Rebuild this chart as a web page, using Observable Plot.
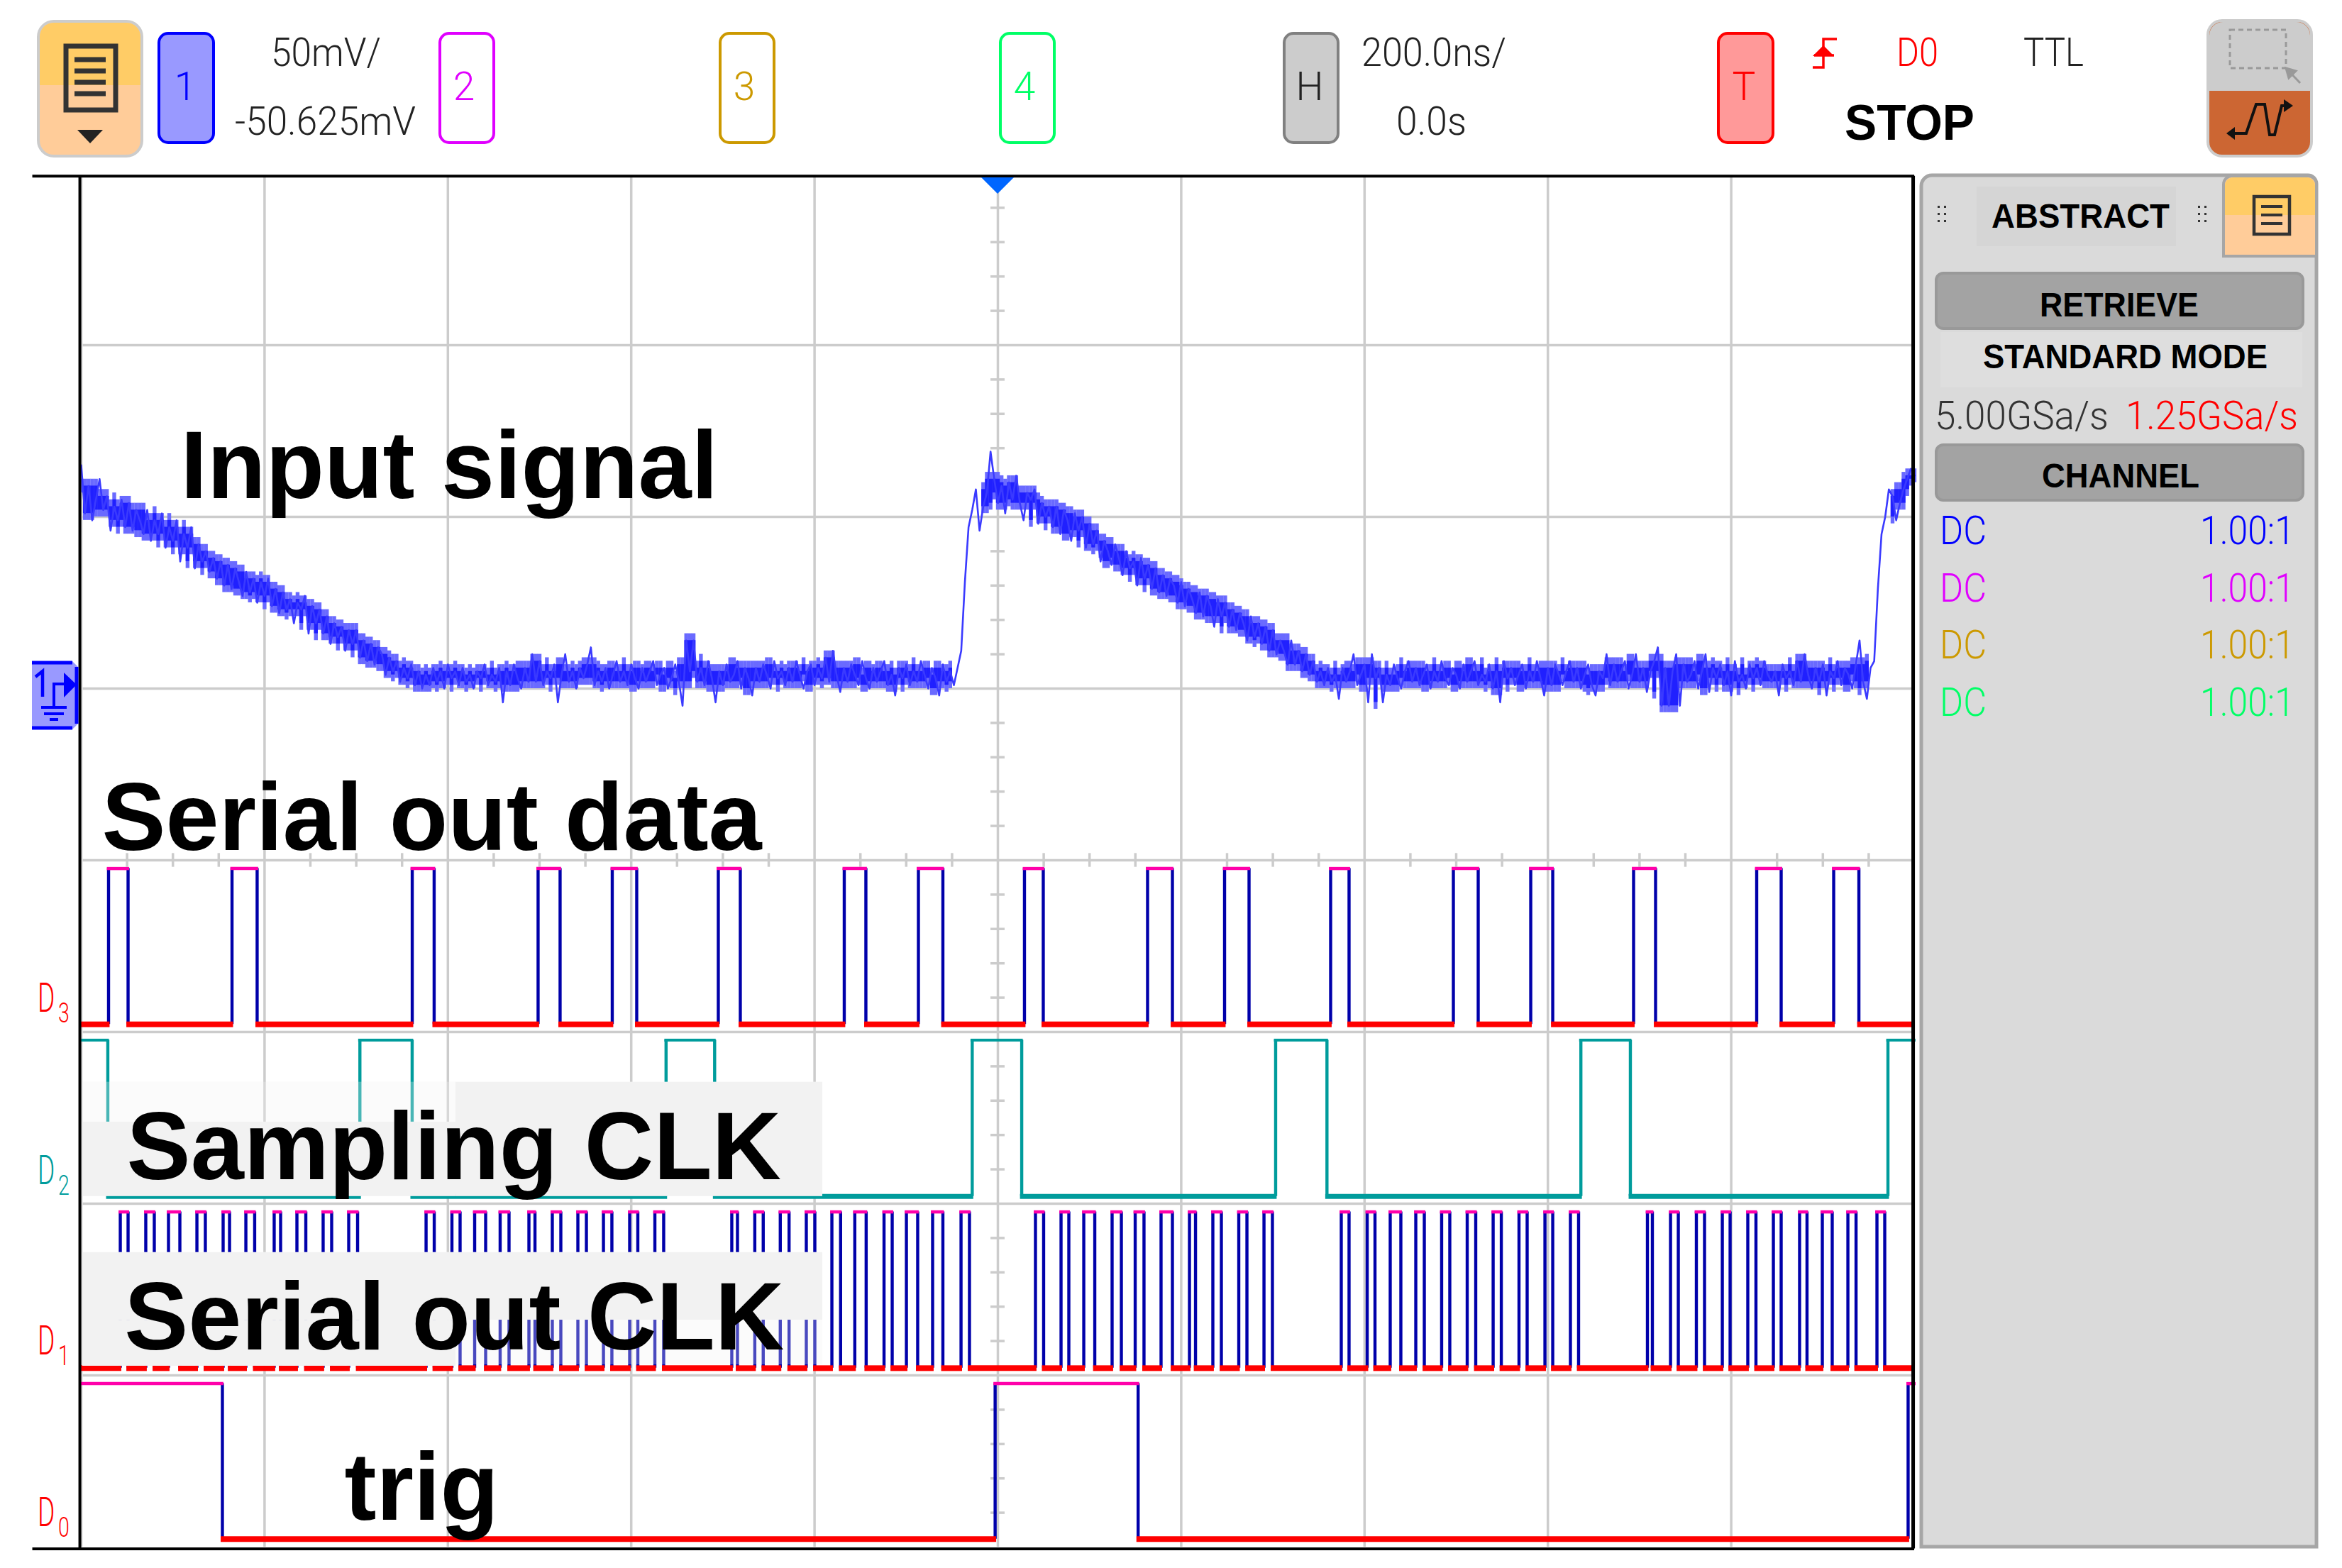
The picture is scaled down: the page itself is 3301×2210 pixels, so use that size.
<!DOCTYPE html>
<html><head><meta charset="utf-8">
<script src="https://cdn.jsdelivr.net/npm/d3@7"></script>
<script src="https://cdn.jsdelivr.net/npm/@observablehq/plot@0.6"></script>
<style>
html,body{margin:0;padding:0;background:#fff}
#page{position:relative;width:3301px;height:2210px;overflow:hidden}
#page>svg{position:absolute;left:0;top:0;display:block;background:transparent}
#chrome text{font-family:"Liberation Sans",Arial,sans-serif}
#chrome .thin{font-family:Roboto,"Liberation Sans",sans-serif;font-weight:300;font-size:55px}
#chrome .bold{font-weight:700;font-size:49px;fill:#000}
#chrome .stop{font-weight:700;font-size:70px;fill:#000}
</style></head><body><div id="page"></div>
<script>
// Analog channel 1: one reading every 4 ns from -1000 ns, in mV
const sampleStep = 4;
const analogDecline1 = [66,52,60,50,56,62,53,57,47,54,50,56,48,55,47,53,50,46,53,44,50,46,52,42,48,44,50,38,46,42,48,36,43,38,41,35,39,33,38,31,37,30,36,32,28,35,29,33,26,32,28,33,25,30,23,29,24,27,20,26,24,28,17,25,20,24,17,22,14,20,16,19,12,18,14,18,10,15,9,14,8,13,11,5,10,6,9,3,7,4,8,2,6,1];
const analogFloor1 = [5,2,7,3,6,1,8,4,6,2,7,3,5,1,6,4,8,2,5,3,7,-3,6,2,8,4,1,7,3,11,3,9,2,6,4,8,-3,5,11,3,6,1,7,4,8,13,2,6,3,7,1,5,9,3,6,2,8,4,1,7,3,6,9,2,5,7,1,4,8,3,-4,15,6,15,3,7,2,9,4,-3,6,2,8,3,5,9,1,7,4,-1,7,3,8,5,1,9,4,6,2,7,3,9,5,1,6,8,2,7,4,10,3,12,5,0,7,3,8,5,2,9,4,1,7,3,6,9,2,5,-1,7,4,8,2,6,3,9,5,1,7,4,-1,8,3,6,2,7];
const analogRise1 = [12,32,48,53,59,47,54,58,70,62];
const analogDecline2 = [55,60,52,61,56,63,55,50,58,56,59,49,55,51,54,48,54,46,53,50,44,52,47,51,42,49,43,47,38,44,41,37,43,39,34,41,36,38,31,39,33,37,30,36,29,34,28,33,31,26,32,25,30,27,23,29,22,28,25,19,27,22,26,19,24,18,23,20,15,22,16,20,14,19,12,18,11,15,12,8,15,8,12,6,11,5,9,3];
const analogFloor2 = [6,2,7,3,5,-2,7,3,6,11,2,5,8,-3,11,4,7,-3,5,2,8,4,1,6,9,3,7,2,5,8,1,6,3,9,4,2,7,5,1,8,3,6,9,2,5,3,8,1,6,-3,9,4,7,2,5,8,1,6,3,9,4,-1,7,2,8,5,2,6,9,3,7,1,5,8,2,-1,6,4,11,2,8,3,6,9,1,5,11,3,7,0,6,9,13,-4,7,-4,6,11,-4,8,3,5,9,1,6,11,0,7,4,8,2,6,-1,9,3,5,1,8,4,7,2,9,5,3,6,-1,8,4,6,2,9,3,11,5,1,7,3,8,-1,6,4,9,2,7,5,1,8,15,3,-2,7,9];
const analogRise2 = [30,46,51,59,57,50,55,59,62,65,63];

// Logic channels: pulse edges in ns
const d3Rise = [-970.2,-835.5,-638.9,-501.6,-420.7,-305,-167.6,-86.7,29,163.3,247.3,363,496.9,581.3,693.5,827.8,911.8];
const d3Fall = [-948.9,-808.1,-615,-477.6,-394,-281,-144,-60,49.5,190.4,274,383.1,524,605.3,717.5,854.5,939.3];
const d2Rise = [-1000,-696,-362,-28,303,636,971];
const d2Fall = [-971,-639,-309,26,359,690,1000];
const d1Rise = [-957.4,-929.6,-904.8,-873.8,-845.2,-820.4,-789.5,-764.7,-736.1,-708.2,-623.8,-595.6,-570.8,-543,-511.6,-486.1,-458.2,-430.3,-401.7,-374.2,-290.3,-265.2,-237.4,-209,-181.1,-156.1,-124.2,-99.8,-71.2,-40.2,41,68.9,93.7,124.6,149.8,178,209,234.5,262.8,290.3,374.6,402.9,428,455.9,484.1,512,540.3,568.5,596.8,624.6,708.6,733.8,762,790.3,818.1,846,874.6,899.4,927.3,959];
const d1Fall = [-948.9,-920.3,-892.4,-864.6,-838.2,-810.8,-782.5,-755,-726.8,-698.5,-614.9,-586.7,-558.8,-533.3,-505,-476.8,-448.9,-421.1,-392.8,-364.6,-284.1,-256,-227.8,-199.7,-171.6,-143.7,-115.3,-87.5,-60,-31,49.9,77.4,105.7,134.7,159.4,190.4,215.6,243.8,271.7,299.5,383.1,411.4,439.6,465.2,493,521.3,549.2,577.4,605.3,633.5,714,742.3,770.9,798.8,827,854.5,882.7,910.2,936.2,967.5];
const d0Rise = [-1000,-3,993];
const d0Fall = [-846,153,1000];
const logicHigh = {d3:-51.4,d2:-101.4,d1:-151.4,d0:-201.4};
const logicLow  = {d3:-96.8,d2:-146.9,d1:-196.9,d0:-246.7};

// Graticule
const majorX = [-1000,-800,-600,-400,-200,0,200,400,600,800];
const majorY = [101,51,1,-49,-99,-149,-199];
const minorX = d3.range(-950,1000,50).filter(t=>t%200!==0);
const minorY = d3.range(-249+10,151,10).filter(v=>(v-1)%50!==0);

// Labels on the screen
const labelText = ["Input signal","Serial out data","Sampling CLK","Serial out CLK","trig"];
const labelT = [-891.6,-977.6,-950.4,-953,-712.8];
const labelV = [56.4,-46,-141.8,-191.5,-241];

// Grey backing patches of the annotations
const patchSolid = [[-998.5,-591.3,-125.2,-146.9],[-591.3,-191.2,-113.6,-146.9],[-998.5,-191.2,-163.2,-182.9],[-998.5,-591.3,-182.9,-196.3]];
const patchDotted = [[-998.5,-591.3,-113.6,-125.2],[-591.3,-191.2,-182.9,-195.9]];

const analogValues = [...analogDecline1,...analogFloor1,...analogRise1,...analogDecline2,...analogFloor2,...analogRise2];
const analog = analogValues.map((mv,i)=>({t:-1000+i*sampleStep,mv}));
// Dense core of the noisy trace, derived from the readings (skips the two fast edges)
const analogCore = analog.map((d,i)=>{
  const w=analogValues.slice(Math.max(0,i-2),i+3).sort((a,b)=>a-b);
  return {t:d.t,lo:w[1],hi:w[w.length-2],i};
}).filter(d=>!(d.i>=238&&d.i<=245)&&!(d.i>=488&&d.i<=493));

function logicMarks(key,rise,fall,edgeColor,highColor,lowColor,lowWidth,inset){
  const hi=logicHigh[key], lo=logicLow[key];
  const pulses=rise.map((r,i)=>({a:r,b:fall[i]}));
  const lows=[];
  let prev=-1000;
  pulses.forEach(p=>{ if(p.a>prev) lows.push({a:prev-(prev>-1000?inset:0),b:p.a+inset}); prev=p.b; });
  if(prev<1000) lows.push({a:prev-inset,b:1000});
  const edges=[];
  pulses.forEach(p=>{ if(p.a>-1000) edges.push(p.a); if(p.b<1000) edges.push(p.b); });
  return [
    Plot.ruleX(edges,{x:d=>d,y1:hi,y2:lo,stroke:edgeColor,strokeWidth:4.4}),
    Plot.ruleY(pulses,{y:hi,x1:d=>d.a-1.5,x2:d=>d.b+1.5,stroke:highColor,strokeWidth:key==="d2"?4:4.5}),
    Plot.ruleY(lows,{y:lo,x1:"a",x2:"b",stroke:lowColor,strokeWidth:lowWidth})
  ];
}

const rectOf=a=>({x1:a[0],x2:a[1],y1:a[2],y2:a[3]});
const grid="#cccccc";
const chart = Plot.plot({
  width:3301,height:2210,margin:0,
  style:{background:"transparent",overflow:"visible"},
  x:{domain:[-1000,1000],range:[114,2698],axis:null},
  y:{domain:[-249,151],range:[2180,244],axis:null},
  marks:[
    Plot.ruleX(majorX,{x:d=>d,y1:-249,y2:150,stroke:grid,strokeWidth:3.5}),
    Plot.ruleY(majorY,{y:d=>d,x1:-998,x2:998,stroke:grid,strokeWidth:3.5}),
    Plot.ruleX(minorX,{x:d=>d,y1:-47,y2:-51,stroke:grid,strokeWidth:3.5}),
    Plot.ruleY(minorY,{y:d=>d,x1:-7.7,x2:7.7,stroke:grid,strokeWidth:3.5}),
    Plot.ruleX(analogCore,{x:"t",y1:d=>d.lo-2,y2:d=>d.hi+2,stroke:"#6a6aff",strokeWidth:5.4}),
    Plot.ruleX(analogCore,{x:"t",y1:"lo",y2:"hi",stroke:"#2020ff",strokeWidth:5.4}),
    Plot.line(analog,{x:"t",y:"mv",stroke:"#3a3aff",strokeWidth:2.6,curve:"linear"}),
    ...logicMarks("d3",d3Rise,d3Fall,"#0000aa","#ff00aa","#ff0000",8,1.5),
    ...logicMarks("d2",d2Rise,d2Fall,"#009c9c","#009c9c","#009c9c",7,1.5),
    ...logicMarks("d1",d1Rise,d1Fall,"#0000aa","#ff00aa","#ff0000",8,1.5),
    ...logicMarks("d0",d0Rise,d0Fall,"#0000aa","#ff00aa","#ff0000",8,1.5),
    Plot.rect(patchSolid.map(rectOf),{x1:"x1",x2:"x2",y1:"y1",y2:"y2",fill:"#f2f2f2"}),
    Plot.rect(patchDotted.map(rectOf),{x1:"x1",x2:"x2",y1:"y1",y2:"y2",fill:"#f2f2f2",fillOpacity:0.3}),
    Plot.text(labelText,{x:(d,i)=>labelT[i],y:(d,i)=>labelV[i],text:d=>d,textAnchor:"start",lineAnchor:"bottom",fontSize:135,fontWeight:700,fontFamily:"Liberation Sans",fill:"#000"}),
    // frame
    Plot.ruleX([-1001.5],{x:d=>d,y1:-249.5,y2:150.2,stroke:"#000",strokeWidth:4}),
    Plot.ruleX([998.5],{x:d=>d,y1:-249.5,y2:150.2,stroke:"#000",strokeWidth:5}),
    Plot.ruleY([150.2],{y:d=>d,x1:-1053,x2:1000,stroke:"#000",strokeWidth:4}),
    Plot.ruleY([-249.5],{y:d=>d,x1:-1053,x2:1000,stroke:"#000",strokeWidth:4})
  ]
});
document.getElementById("page").appendChild(chart);

// Instrument front panel
const btn=(x,w,fill,stroke,label,color,lx)=>`<rect x="${x}" y="47" width="${w}" height="154" rx="13" fill="${fill}" stroke="${stroke}" stroke-width="4"/><text class="thin" x="${lx}" y="141" text-anchor="middle" fill="${color}">${label}</text>`;
const t=(s,x,y,len,fill,cls="thin")=>`<text class="${cls}" x="${x}" y="${y}" textLength="${len}" lengthAdjust="spacingAndGlyphs" fill="${fill}">${s}</text>`;
const dl=(n,y,c)=>`<text class="thin" transform="translate(53,${y}) scale(.64,1)" fill="${c}" style="font-size:58px">D</text><text class="thin" transform="translate(82,${y+15}) scale(.75,1)" fill="${c}" style="font-size:38px">${n}</text>`;
const dcRows=[[767,"#0000ff"],[848,"#e000ff"],[928,"#cc9900"],[1009,"#00ff66"]];
const doc=(x,y,w,h,sw)=>`<rect x="${x}" y="${y}" width="${w}" height="${h}" fill="none" stroke="#333" stroke-width="${sw}"/>`;
const svg=`<svg id="chrome" xmlns="http://www.w3.org/2000/svg" width="3301" height="2210" viewBox="0 0 3301 2210">
<rect x="54" y="30" width="146" height="190" rx="22" fill="#ffcc99" stroke="#cccccc" stroke-width="4"/>
<path d="M56 120V52a20 20 0 0 1 20-20H178a20 20 0 0 1 20 20V120Z" fill="#ffcc66"/>
${doc(93,65,70,90,7)}
<path d="M105 84H149M105 100H149M105 116H149M105 132H149" stroke="#333" stroke-width="7"/>
<path d="M109 183H145L127 202Z" fill="#222"/>
${btn(224,77,"#9999ff","#0000ff","1","#0000ff",261)}
${btn(620,76,"#ffffff","#e000ff","2","#e000ff",654)}
${btn(1015,76,"#ffffff","#cc9900","3","#cc9900",1049)}
${btn(1410,76,"#ffffff","#00ff66","4","#00ff66",1444)}
${btn(1810,76,"#cccccc","#808080","H","#222",1846)}
${btn(2422,77,"#ff9999","#ff0000","T","#ff0000",2458)}
${t("50mV/",382,93,155,"#222")}
${t("-50.625mV",331,190,255,"#222")}
${t("200.0ns/",1919,93,204,"#222")}
${t("0.0s",1968,190,99,"#222")}
<path d="M2589 55H2570V95H2555M2557 78H2585" fill="none" stroke="#ff0000" stroke-width="3.5"/><path d="M2570 64L2585 79H2555Z" fill="#ff0000"/>
${t("D0",2673,93,59,"#ff0000")}
${t("TTL",2852,93,85,"#222")}
${t("STOP",2600,197,183,"#000","stop")}
<rect x="3112" y="29" width="146" height="191" rx="20" fill="#cc6633" stroke="#cccccc" stroke-width="4"/>
<path d="M3114 128V50a19 19 0 0 1 19-19H3237a19 19 0 0 1 19 19V128Z" fill="#cccccc"/>
<rect x="3143" y="42" width="79" height="54" fill="none" stroke="#999" stroke-width="3" stroke-dasharray="7 5"/>
<path d="M3222 96L3242 117M3222 96L3236 100L3226 110Z" fill="#999" stroke="#999" stroke-width="3"/>
<path d="M3141 188H3166L3180 147H3192L3199 190H3206L3216 149H3229" fill="none" stroke="#111" stroke-width="4"/>
<path d="M3138 188L3150 179V197ZM3232 149L3219 140V158Z" fill="#111"/>
<path d="M2708 2180V262a15 15 0 0 1 15-15H3253a12 12 0 0 1 12 12V2180Z" fill="#dadada" stroke="#a6a6a6" stroke-width="5"/>
<path d="M3134 361V260a12 12 0 0 1 12-12H3253a12 12 0 0 1 12 12V361Z" fill="#ffcc99" stroke="#a6a6a6" stroke-width="4"/>
<path d="M3136 303V262a12 12 0 0 1 12-12H3251a12 12 0 0 1 12 12V303Z" fill="#ffcc66"/>
${doc(3177,277,50,53,4.5)}<path d="M3187 291H3217M3187 303H3217M3187 315H3217" stroke="#333" stroke-width="4"/>
<rect x="2786" y="263" width="281" height="84" fill="#d5d5d5"/>
<path d="M2731 290h3v3h-3zM2740 290h3v3h-3zM2731 300h3v3h-3zM2740 300h3v3h-3zM2731 310h3v3h-3zM2740 310h3v3h-3zM3098 290h3v3h-3zM3107 290h3v3h-3zM3098 300h3v3h-3zM3107 300h3v3h-3zM3098 310h3v3h-3zM3107 310h3v3h-3z" fill="#333"/>
${t("ABSTRACT",2807,321,251,"#000","bold")}
<rect x="2729" y="385" width="517" height="78" rx="10" fill="#a3a3a3" stroke="#999" stroke-width="4"/>
<rect x="2735" y="468" width="510" height="78" fill="#dedede"/>
${t("RETRIEVE",2875,446,224,"#000","bold")}
${t("STANDARD MODE",2795,519,401,"#000","bold")}
${t("5.00GSa/s",2727,605,245,"#333")}
${t("1.25GSa/s",2996,605,243,"#ff0000")}
<rect x="2729" y="627" width="517" height="78" rx="10" fill="#a3a3a3" stroke="#999" stroke-width="4"/>
${t("CHANNEL",2878,687,222,"#000","bold")}
${dcRows.map(r=>t("DC",2734,r[0],66,r[1])+t("1.00:1",3101,r[0],133,r[1])).join("")}
${dl(3,1426,"#ff0000")}${dl(2,1669,"#009c9c")}${dl(1,1909,"#ff0000")}${dl(0,2151,"#ff0000")}
<path d="M1383 250H1429L1406 273Z" fill="#0066ff"/>
<path d="M45 932H102L110 940V1020L102 1028H45Z" fill="#9999ff"/>
<path d="M45 934H102M45 1026H102M108 940V1020" stroke="#0000ff" stroke-width="5" fill="none"/>
<path d="M50 954L60 946V982" stroke="#0000ff" stroke-width="4.5" fill="none"/>
<path d="M90 964H76V996M58 997H94M62 1006H90M70 1014H82" stroke="#0000ff" stroke-width="4" fill="none"/>
<path d="M90 948L108 965L90 983Z" fill="#0000ff"/>
</svg>`;
document.getElementById("page").insertAdjacentHTML("beforeend",svg);
</script></body></html>
